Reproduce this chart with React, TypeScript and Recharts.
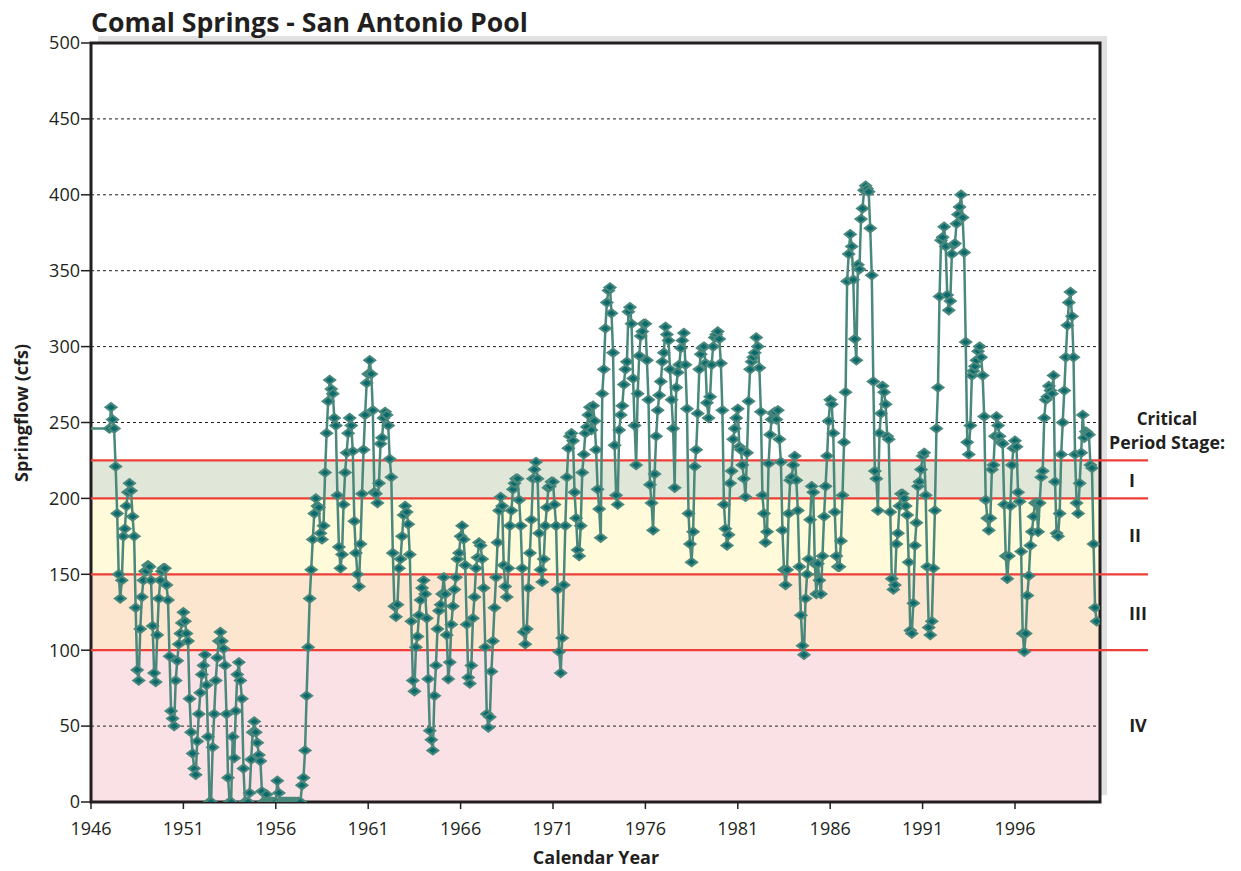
import React from 'react';
import {
  ComposedChart,
  Line,
  XAxis,
  YAxis,
  ReferenceArea,
  ReferenceLine,
} from 'recharts';

// monthly springflow (cfs), Jan 1947 onward
const FLOW_START_1946 = 246;

const FLOW_1947_1949 = [
  246, 260, 252, 246, 221, 190, 150, 134, 146, 175, 180, 195,
  204, 210, 205, 188, 175, 128, 87, 80, 114, 135, 146, 152,
  152, 156, 155, 146, 116, 85, 79, 110, 134, 146, 152, 154,
];

const FLOW_1950S = [
  154, 143, 133, 96, 60, 55, 50, 80, 93, 104, 111, 118,
  125, 119, 111, 106, 68, 46, 32, 22, 18, 40, 58, 72,
  84, 90, 97, 77, 43, 0, 0, 36, 58, 80, 95, 106,
  112, 106, 101, 90, 58, 16, 0, 0, 43, 29, 60, 84,
  92, 80, 68, 22, 0, 0, 0, 6, 28, 46, 53, 46,
  39, 31, 27, 7, 0, 0, 5, 0, 0, 0, 0, 0,
  0, 14, 6, 0, 0, 0, 0, 0, 0, 0, 0, 0,
  0, 0, 0, 0, 0, 11, 16, 34, 70, 102, 134, 153,
  173, 190, 200, 195, 194, 177, 173, 182, 217, 243, 264, 278,
  272, 269, 253, 248, 202, 168, 154, 163, 196, 217, 230, 243,
];

const FLOW_1960S = [
  253, 248, 231, 185, 164, 150, 142, 170, 203, 232, 255, 276,
  282, 291, 282, 258, 204, 203, 197, 210, 236, 240, 253, 257,
  255, 248, 226, 214, 164, 129, 122, 130, 154, 160, 175, 189,
  195, 191, 183, 163, 119, 80, 73, 102, 109, 123, 133, 141,
  146, 137, 121, 81, 47, 41, 34, 70, 90, 114, 126, 130,
  137, 148, 137, 110, 81, 92, 117, 129, 140, 148, 160, 164,
  175, 182, 173, 156, 117, 82, 78, 90, 121, 135, 154, 161,
  171, 169, 160, 141, 102, 58, 49, 56, 86, 106, 128, 148,
  171, 192, 201, 195, 156, 142, 135, 154, 182, 192, 206, 210,
  213, 213, 199, 182, 154, 112, 104, 114, 141, 164, 186, 213,
];

const FLOW_1970S = [
  219, 224, 213, 177, 153, 145, 160, 182, 194, 207, 208, 211,
  211, 196, 182, 140, 99, 85, 108, 143, 182, 214, 233, 241,
  243, 238, 204, 187, 166, 162, 182, 217, 229, 243, 247, 255,
  260, 245, 261, 251, 232, 206, 193, 174, 269, 285, 312, 329,
  337, 339, 322, 296, 235, 202, 196, 245, 255, 261, 275, 285,
  290, 323, 326, 315, 279, 248, 222, 269, 294, 307, 310, 315,
  315, 291, 265, 209, 197, 179, 216, 241, 258, 268, 277, 290,
  296, 313, 308, 304, 285, 265, 246, 207, 273, 283, 288, 299,
  304, 309, 288, 259, 190, 170, 158, 178, 221, 232, 256, 285,
  295, 299, 300, 289, 263, 253, 267, 288, 300, 306, 308, 310,
];

const FLOW_1980S = [
  305, 289, 258, 196, 180, 169, 176, 210, 218, 239, 246, 253,
  259, 234, 232, 222, 213, 201, 230, 264, 285, 290, 293, 296,
  306, 300, 286, 257, 202, 190, 171, 178, 223, 242, 252, 256,
  257, 252, 258, 239, 224, 179, 153, 143, 153, 190, 212, 214,
  222, 228, 212, 192, 155, 123, 103, 97, 134, 150, 160, 186,
  208, 204, 157, 137, 157, 146, 137, 162, 188, 208, 228, 251,
  265, 262, 243, 191, 162, 155, 155, 172, 202, 237, 270, 343,
  361, 374, 366, 344, 305, 291, 354, 351, 384, 391, 403, 406,
  404, 402, 378, 347, 277, 218, 213, 192, 243, 256, 274, 270,
  262, 241, 239, 191, 147, 140, 143, 170, 177, 195, 203, 203,
];

const FLOW_1990S = [
  200, 195, 189, 158, 113, 111, 131, 169, 184, 208, 211, 219,
  228, 230, 202, 155, 115, 110, 119, 154, 192, 246, 273, 333,
  370, 372, 379, 366, 334, 324, 330, 361, 367, 368, 381, 387,
  392, 400, 385, 362, 303, 237, 229, 248, 281, 284, 287, 291,
  297, 300, 293, 281, 254, 199, 187, 179, 187, 219, 222, 241,
  254, 248, 241, 237, 236, 196, 162, 147, 162, 195, 222, 233,
  238, 234, 204, 198, 165, 111, 99, 111, 136, 149, 169, 178,
  188, 197, 197, 178, 197, 214, 218, 253, 265, 267, 274, 271,
  269, 281, 211, 177, 175, 190, 229, 250, 271, 293, 314, 329,
  336, 320, 293, 229, 197, 190, 210, 230, 255, 240, 244, 243,
];

const FLOW_2000 = [242, 222, 220, 170, 128, 119];

const X_TICKS = [1946, 1951, 1956, 1961, 1966, 1971, 1976, 1981, 1986, 1991, 1996];
const Y_TICKS = [0, 50, 100, 150, 200, 250, 300, 350, 400, 450, 500];
const GRID_VALUES = [50, 250, 300, 350, 400, 450];
const STAGE_LIMITS = [100, 150, 200, 225];
const STAGE_NAMES = ['I', 'II', 'III', 'IV'];

const X_MIN = 1946;
const X_MAX = 2000.6;

const monthly = [
  ...FLOW_1947_1949,
  ...FLOW_1950S,
  ...FLOW_1960S,
  ...FLOW_1970S,
  ...FLOW_1980S,
  ...FLOW_1990S,
  ...FLOW_2000,
];

const data = [
  { t: 1946, flow: FLOW_START_1946 },
  ...monthly.map((v, i) => ({ t: 1947 + i / 12, flow: v })),
];

const INK = '#231f20';
const RED = '#ee3e38';
const FONT = '"Open Sans", "DejaVu Sans", sans-serif';

const bandFills = ['#fae1e6', '#fde6cf', '#fffad9', '#e0e6d8'];

const Diamond = (props: any) => {
  const { cx, cy, index } = props;
  if (index === 0 || cx == null || cy == null) return <g key={`d${index}`} />;
  const w = 5.5;
  const h = 4.2;
  return (
    <polygon
      key={`d${index}`}
      points={`${cx},${cy - h} ${cx + w},${cy} ${cx},${cy + h} ${cx - w},${cy}`}
      fill="#0a6a6e"
      stroke="#4a887c"
      strokeWidth={2}
    />
  );
};

const stageLabelPos = [
  { x: 1132, y: 487 },
  { x: 1135, y: 542 },
  { x: 1138, y: 620 },
  { x: 1138, y: 732 },
];

const App = () => {
  const bandEdges = [0, ...STAGE_LIMITS];
  return (
    <div style={{ position: 'absolute', left: 0, top: 0, width: 1241, height: 871, background: '#fff' }}>
      <ComposedChart
        width={1241}
        height={871}
        data={data}
        margin={{ top: 43, right: 141, bottom: 39, left: 31 }}
      >
        <XAxis
          dataKey="t"
          type="number"
          domain={[X_MIN, X_MAX]}
          ticks={X_TICKS}
          height={30}
          axisLine={false}
          tickLine={{ stroke: INK, strokeWidth: 1.5 }}
          tickSize={7}
          tickMargin={13}
          tick={{ fontSize: 18, fill: INK, fontFamily: FONT }}
          allowDataOverflow
        />
        <YAxis
          type="number"
          domain={[0, 500]}
          ticks={Y_TICKS}
          width={60}
          axisLine={false}
          tickLine={{ stroke: INK, strokeWidth: 1.5 }}
          tickSize={10}
          tickMargin={1}
          tick={{ fontSize: 18, fill: INK, fontFamily: FONT }}
          allowDataOverflow
        />

        {/* drop shadow behind the plot frame */}
        <ReferenceArea
          x1={X_MIN + 0.38}
          x2={X_MAX + 0.38}
          y1={4.6}
          y2={504.6}
          fill="#e1e1e2"
          fillOpacity={1}
          ifOverflow="visible"
        />
        <ReferenceArea x1={X_MIN} x2={X_MAX} y1={0} y2={500} fill="#ffffff" fillOpacity={1} ifOverflow="visible" />

        {bandFills.map((fill, i) => (
          <ReferenceArea
            key={`band${i}`}
            x1={X_MIN}
            x2={X_MAX}
            y1={bandEdges[i]}
            y2={bandEdges[i + 1]}
            fill={fill}
            fillOpacity={1}
            ifOverflow="visible"
          />
        ))}

        {GRID_VALUES.map((v) => (
          <ReferenceLine key={`g${v}`} y={v} stroke={INK} strokeWidth={1} strokeDasharray="3 3" />
        ))}

        {STAGE_LIMITS.map((v) => (
          <ReferenceLine
            key={`s${v}`}
            segment={[{ x: X_MIN, y: v }, { x: 2003.2, y: v }]}
            stroke={RED}
            strokeWidth={2.2}
            ifOverflow="visible"
          />
        ))}

        <ReferenceArea
          x1={X_MIN}
          x2={X_MAX}
          y1={0}
          y2={500}
          fill="none"
          stroke={INK}
          strokeWidth={3}
          ifOverflow="visible"
        />

        <Line
          type="linear"
          dataKey="flow"
          stroke="#4a887c"
          strokeWidth={2.5}
          dot={Diamond}
          activeDot={false}
          isAnimationActive={false}
        />
      </ComposedChart>

      <svg
        width={1241}
        height={871}
        style={{ position: 'absolute', left: 0, top: 0, pointerEvents: 'none' }}
        fontFamily={FONT}
        fill={INK}
      >
        <text x={91} y={32} fontSize={27} fontWeight={700} textLength={437} lengthAdjust="spacingAndGlyphs">
          Comal Springs - San Antonio Pool
        </text>
        <text transform="translate(28,413) rotate(-90)" textAnchor="middle" fontSize={18} fontWeight={700}>
          Springflow (cfs)
        </text>
        <text x={596} y={864} textAnchor="middle" fontSize={18} fontWeight={700}>
          Calendar Year
        </text>
        <text x={1167} y={425} textAnchor="middle" fontSize={17} fontWeight={700}>
          Critical
        </text>
        <text x={1167} y={449} textAnchor="middle" fontSize={17} fontWeight={700} textLength={116} lengthAdjust="spacingAndGlyphs">
          Period Stage:
        </text>
        {STAGE_NAMES.map((name, i) => (
          <text
            key={name}
            x={stageLabelPos[i].x}
            y={stageLabelPos[i].y}
            textAnchor="middle"
            fontSize={18}
            fontWeight={700}
          >
            {name}
          </text>
        ))}
      </svg>
    </div>
  );
};

export default App;
